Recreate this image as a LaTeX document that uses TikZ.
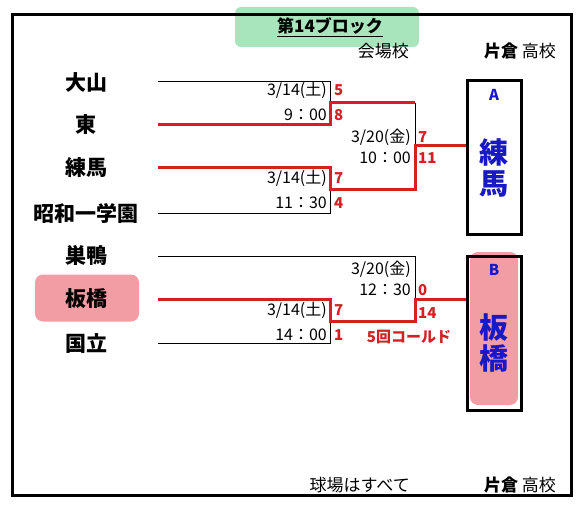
\documentclass[tikz,border=0pt]{standalone}
\usepackage{fontspec}
\setmainfont{Noto Sans CJK JP}
\usetikzlibrary{positioning,calc}
\definecolor{winred}{RGB}{214,30,36}
\definecolor{seedblue}{RGB}{24,24,196}
\definecolor{seedpink}{RGB}{242,156,164}
\definecolor{titlegreen}{RGB}{168,228,188}
\tikzset{
  team/.style={font=\bfseries\fontsize{21}{24}\selectfont, inner sep=0pt},
  info/.style={font=\fontsize{16}{18}\selectfont, anchor=east, inner sep=0pt},
  score/.style={font=\bfseries\fontsize{15}{17}\selectfont, text=winred, anchor=west, inner sep=0pt},
  head/.style={font=\fontsize{17}{20}\selectfont, inner sep=0pt},
  loseline/.style={black, line width=1pt},
  winline/.style={winred, line width=3pt},
  seedbox/.style={draw, line width=3pt, minimum width=54pt, minimum height=153pt},
  seedname/.style={font=\bfseries\fontsize{29}{31}\selectfont, text=seedblue, align=center, inner sep=0pt},
  seedletter/.style={font=\bfseries\fontsize{15}{17}\selectfont, text=seedblue, inner sep=0pt},
}
\begin{document}
\begin{tikzpicture}[x=1pt, y=-1pt]
  \useasboundingbox (0,0) rectangle (584,508);
  % --- title and frame
  \fill[titlegreen, rounded corners=6pt] (235,7) rectangle (419,47);
  \draw[line width=3pt] (12,15) rectangle (571,495);
  \node[font=\bfseries\fontsize{17}{20}\selectfont, inner sep=0pt] (title) at (330,27) {\underline{第14ブロック}};
  \node[head, anchor=east] (venue) at (409,51) {会場校};
  \node[head] (host) at (520,51) {\textbf{片倉} 高校};
  \node[head, anchor=east] (allfield) at (410,485) {球場はすべて};
  \node[head] (hostb) at (520,485) {\textbf{片倉} 高校};
  % --- teams
  \node[fill=seedpink, rounded corners=8pt, minimum width=104pt, minimum height=47pt] (hl) at (87,298) {};
  \foreach \i/\y/\name in {1/82/大山, 2/125/東, 3/168/練馬, 4/213/昭和一学園,
                           5/256/巣鴨, 6/299/板橋, 7/343/国立}{
    \node[team] (team\i) at (86,\y) {\name};
    \coordinate (line\i) at (158,\y);}
  % --- joins
  \coordinate (m1) at (330,103);
  \coordinate (m2) at (330,190);
  \coordinate (m3) at (330,321);
  \coordinate (s1) at (415,146);
  \coordinate (s2) at (415,299);
  % --- seed boxes
  \node[seedbox] (seedA) at (494,157.5) {};
  \fill[seedpink, rounded corners=8pt] (470,252) rectangle (518,405);
  \node[seedbox, minimum height=154pt] (seedB) at (494,333) {};
  \node[seedletter] (letA) at (494,95) {A};
  \node[seedname] (nameA) at (494,168) {練\\馬};
  \node[seedletter] (letB) at (494,270) {B};
  \node[seedname] (nameB) at (494,343) {板\\橋};
  % --- black lines
  \draw[loseline] (line1) -| (m1);
  \draw[loseline] (line4) -| (m2);
  \draw[loseline] (line7) -| (m3);
  \draw[loseline] (line5) -| (s2);
  \draw[loseline] (m1 -| s1) -- (s1);
  % --- winners
  \draw[winline] (line2) -| (m1) -- (m1 -| s1);
  \draw[winline] (line3) -| (m2) -- (m2 -| s1) -- (s1) -- (s1 -| seedA.west);
  \draw[winline] (line6) -| (m3) -- (m3 -| s2) -- (s2) -- (s2 -| seedB.west);
  % --- dates and scores
  \node[info] (d1) at (327,90) {3/14(土)};
  \node[info] (t1) at (327,115) {9：00};
  \node[score] (a1) at (334,90) {5};
  \node[score] (b1) at (334,115) {8};
  \node[info] (d2) at (327,178) {3/14(土)};
  \node[info] (t2) at (327,203) {11：30};
  \node[score] (a2) at (334,178) {7};
  \node[score] (b2) at (334,203) {4};
  \node[info] (d3) at (327,310) {3/14(土)};
  \node[info] (t3) at (327,335) {14：00};
  \node[score] (a3) at (334,310) {7};
  \node[score] (b3) at (334,335) {1};
  \node[info] (d4) at (411,137) {3/20(金)};
  \node[info] (t4) at (411,158) {10：00};
  \node[score] (a4) at (418,137) {7};
  \node[score] (b4) at (418,158) {11};
  \node[info] (d5) at (411,269) {3/20(金)};
  \node[info] (t5) at (411,290) {12：30};
  \node[score] (a5) at (418,290) {0};
  \node[score] (b5) at (418,313) {14};
  \node[score, anchor=center] (cold) at (409,337) {5回コールド};
\end{tikzpicture}
\end{document}
